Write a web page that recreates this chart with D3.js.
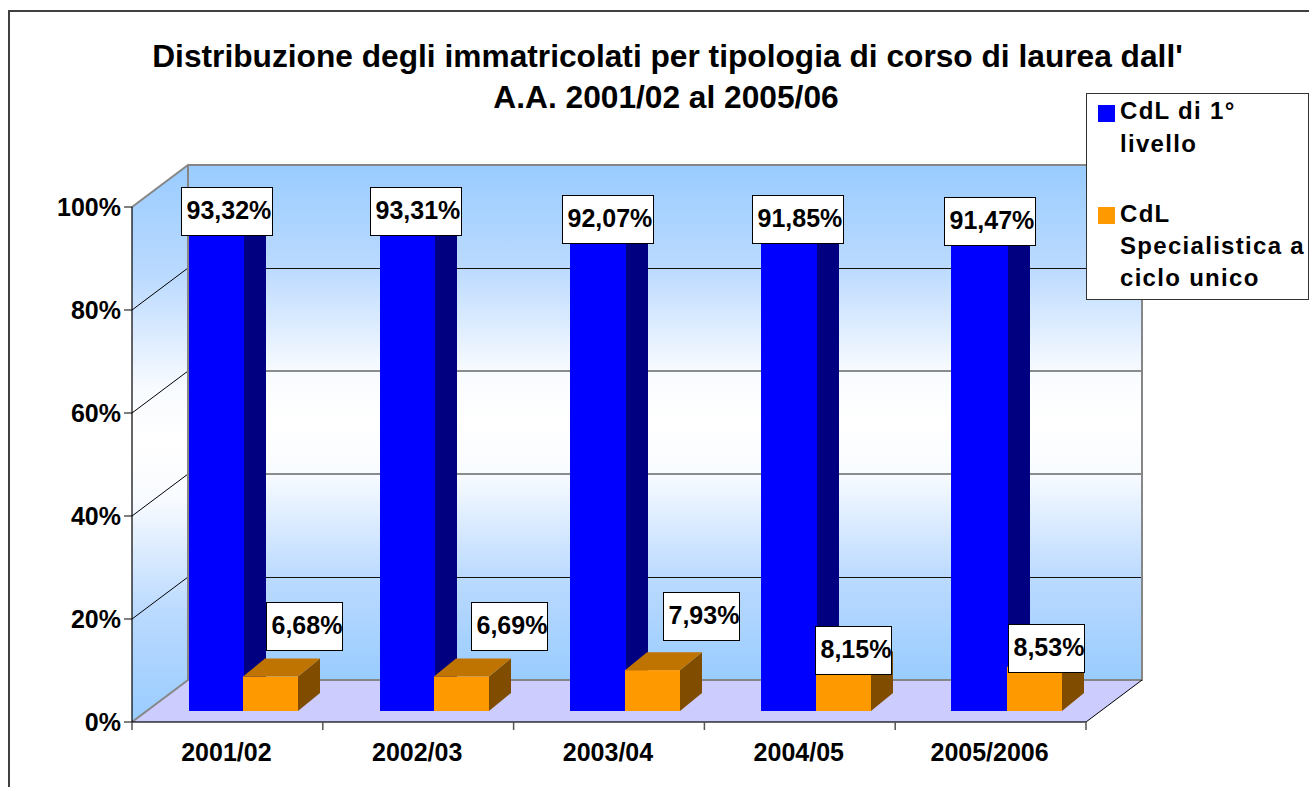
<!DOCTYPE html>
<html><head><meta charset="utf-8">
<script src="https://cdn.jsdelivr.net/npm/d3@7"></script>
<style>
html,body{margin:0;padding:0;background:#fff;overflow:hidden}
svg{display:block}
text{font-family:"Liberation Sans",Arial,sans-serif;font-weight:bold;fill:#000}
</style></head><body>
<script>
const categories = ["2001/02","2002/03","2003/04","2004/05","2005/2006"];
const firstLevel = [93.32,93.31,92.07,91.85,91.47];
const singleCycle = [6.68,6.69,7.93,8.15,8.53];
const yTicks = [0,20,40,60,80,100];
const titleLines = ["Distribuzione degli immatricolati per tipologia di corso di laurea dall'","A.A. 2001/02 al 2005/06"];
const legendEntries = [
  {lines:["CdL di 1°","livello"],color:"#0000ff"},
  {lines:["CdL","Specialistica a","ciclo unico"],color:"#ff9900"}
];
// manual placement of the data labels, relative to each bar's top centre
const blueLabelOffset = [[10,-19],[8,-19],[9,-18],[9,-19],[10,-19]];
const orangeLabelOffset = [[33.5,-50.6],[48,-50.6],[49,-54],[10,-19],[12,-19]];

const W=1309,H=787;
const svg=d3.select("body").append("svg").attr("width",W).attr("height",H);
const defs=svg.append("defs");
const grad=defs.append("linearGradient").attr("id","wall").attr("x1",0).attr("x2",0).attr("y1",0).attr("y2",1);
[[0,"#99ccff"],[.2,"#bbdaff"],[.4,"#f8fbff"],[.5,"#ffffff"],[.6,"#f8fbff"],[.8,"#bbdaff"],[1,"#99ccff"]]
  .forEach(s=>grad.append("stop").attr("offset",s[0]).attr("stop-color",s[1]));

const frontL=132,frontR=1086,front0=722,front100=207;
const dx=56,dy=-42;
const barFloorDy=-11;
const barDx=22,barDy=-18;
const x=d3.scaleBand().domain(categories).range([frontL,frontR]);
const xBlue=d3.scaleBand().domain(categories).range([frontL,frontR-1.5]);
const y=d3.scaleLinear().domain([0,100]).range([front0,front100]);
const yBar=v=>y(v)+barFloorDy;
const barW=55;
const barStart=57;

// frame
svg.append("path").attr("d",`M${W},11H9V${H}`).attr("fill","none").attr("stroke","#404040").attr("stroke-width",2);

// title
svg.append("g").selectAll("text").data(titleLines).join("text")
  .attr("x",(d,i)=>i?666:667.5).attr("y",(d,i)=>67+i*41).attr("text-anchor","middle")
  .attr("font-size",31.7).text(d=>d);

// back wall + side wall
svg.append("rect").attr("x",frontL+dx).attr("y",y(100)+dy).attr("width",frontR-frontL)
  .attr("height",y(0)-y(100)).attr("fill","url(#wall)");
svg.append("path").attr("d",`M${frontL},${y(100)}L${frontL+dx},${y(100)+dy}V${y(0)+dy}L${frontL},${y(0)}Z`)
  .attr("fill","url(#wall)");
// floor
svg.append("path").attr("d",`M${frontL},${y(0)}L${frontL+dx},${y(0)+dy}H${frontR+dx}L${frontR},${y(0)}Z`).attr("fill","#ccccff");

// grid
yTicks.filter(t=>t>0&&t<100).forEach(t=>{
  const dark=(t===20||t===80);
  const yy=Math.round(y(t)+dy)+(dark?0.5:0);
  svg.append("path").attr("d",`M${frontL},${y(t)}L${frontL+dx},${y(t)+dy}`)
    .attr("fill","none").attr("stroke","#000").attr("stroke-width",1);
  svg.append("path").attr("d",`M${frontL+dx},${yy}H${frontR+dx}`)
    .attr("fill","none").attr("stroke",dark?"#111":"#666").attr("stroke-width",dark?1:1.5);
});
// wall borders
svg.append("path").attr("d",`M${frontL},${y(100)}L${frontL+dx},${y(100)+dy}H${frontR+dx}V${y(0)+dy}H${frontL+dx}V${y(100)+dy}`)
  .attr("fill","none").attr("stroke","#868686").attr("stroke-width",2);
svg.append("path").attr("d",`M${frontL},${y(0)}L${frontL+dx},${y(0)+dy}`).attr("stroke","#868686").attr("stroke-width",2);
svg.append("path").attr("d",`M${frontR},${y(0)}L${frontR+dx},${y(0)+dy}`).attr("stroke","#000").attr("stroke-width",1);

// bars
function bar(g,left,v,w,front,top,side){
  const b=yBar(0),t=yBar(v);
  g.append("path").attr("d",`M${left+w},${b}l${barDx},${barDy}V${t+barDy}l${-barDx},${-barDy}Z`).attr("fill",side);
  g.append("path").attr("d",`M${left},${t}l${barDx},${barDy}h${w}l${-barDx},${-barDy}Z`).attr("fill",top);
  g.append("rect").attr("x",left).attr("y",t).attr("width",w).attr("height",b-t).attr("fill",front);
}
const barsG=svg.append("g");
categories.forEach((c,i)=>{
  const g=barsG.append("g");
  const blueL=Math.round(xBlue(c)+barStart);
  const orangeL=Math.ceil(x(c)+barStart+barW-1);
  bar(g,blueL,firstLevel[i],orangeL-blueL+1,"#0000ff","#000080","#000080");
  bar(g,orangeL,singleCycle[i],barW,"#ff9900","#bf7300","#804d00");
});

// axes
svg.append("path").attr("d",`M${frontL},${y(100)}V${y(0)}H${frontR}`).attr("fill","none").attr("stroke","#000").attr("stroke-width",1.5).attr("stroke-opacity",.8);
const yAxis=svg.append("g");
yTicks.forEach(t=>{
  yAxis.append("line").attr("x1",frontL-8).attr("x2",frontL).attr("y1",y(t)).attr("y2",y(t)).attr("stroke","#000");
  yAxis.append("text").attr("x",frontL-11).attr("y",y(t)+9).attr("text-anchor","end").attr("font-size",25).text(t+"%");
});
const xTicks=categories.map(c=>x(c)).concat([frontR]);
svg.append("g").selectAll("line").data(xTicks).join("line")
  .attr("x1",d=>d).attr("x2",d=>d).attr("y1",y(0)).attr("y2",y(0)+8).attr("stroke","#555").attr("stroke-width",1.5);
svg.append("g").selectAll("text").data(categories).join("text")
  .attr("x",c=>x(c)+x.bandwidth()/2-1).attr("y",761).attr("text-anchor","middle").attr("font-size",25).text(c=>c);

// labels
function label(cx,cy,w,txt){
  const h=48;
  svg.append("rect").attr("x",Math.round(cx-w/2)+.5).attr("y",Math.round(cy-h/2)+.5).attr("width",w).attr("height",h)
    .attr("fill","#fff").attr("stroke","#000").attr("stroke-width",1);
  svg.append("text").attr("x",Math.round(cx-w/2)+5.5).attr("y",cy+8).attr("font-size",25).text(txt);
}
const fmt=v=>v.toFixed(2).replace(".",",")+"%";
categories.forEach((c,i)=>{
  const bl=x(c)+barStart;
  const o1=blueLabelOffset[i];
  label(bl+barW/2+o1[0],yBar(firstLevel[i])+o1[1],91,fmt(firstLevel[i]));
});
categories.forEach((c,i)=>{
  const ol=x(c)+barStart+barW-1;
  const o2=orangeLabelOffset[i];
  label(ol+barW/2+o2[0],yBar(singleCycle[i])+o2[1],76,fmt(singleCycle[i]));
});

// legend
svg.append("rect").attr("x",1086.5).attr("y",93.5).attr("width",222).attr("height",206).attr("fill","#fff").attr("stroke","#333").attr("stroke-width",1);
const rowY=[119,222];
const rowStep=[33,32];
legendEntries.forEach((e,i)=>{
  svg.append("rect").attr("x",1098).attr("y",[105,207][i]).attr("width",17).attr("height",17).attr("fill",e.color);
  e.lines.forEach((l,j)=>{
    svg.append("text").attr("x",1120).attr("y",rowY[i]+j*rowStep[i]).attr("font-size",24).attr("letter-spacing",1.3).text(l);
  });
});
</script></body></html>
